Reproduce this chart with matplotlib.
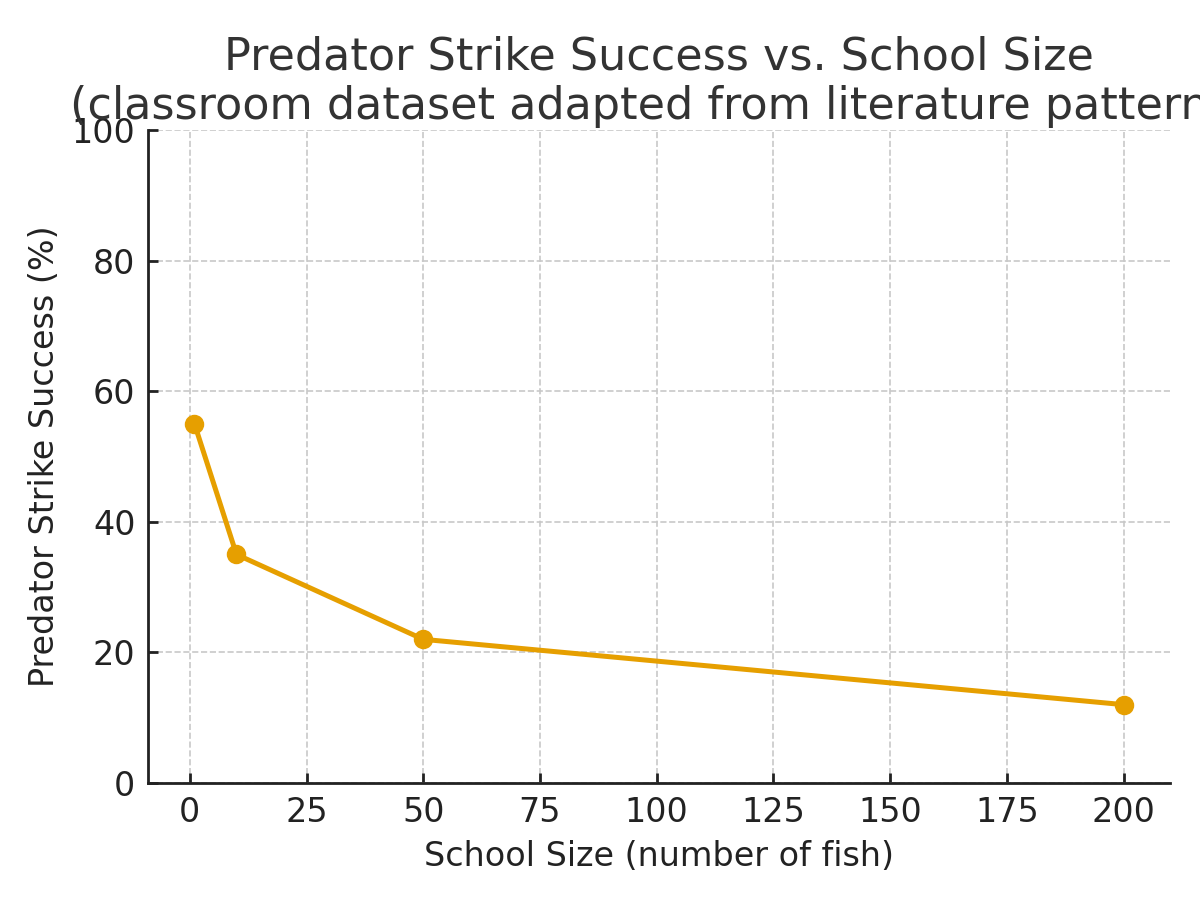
import matplotlib
matplotlib.use("Agg")
import matplotlib.pyplot as plt

school_size = [1, 10, 50, 200]
strike_success = [55, 35, 22, 12]
x_ticks = [0, 25, 50, 75, 100, 125, 150, 175, 200]
y_ticks = [0, 20, 40, 60, 80, 100]

fig = plt.figure(figsize=(6, 4.5), dpi=200)
ax = fig.add_axes([148/1200, 1-783/900, (1170-148)/1200, (783-130)/900])

ax.plot(school_size, strike_success, color="#E69F00", linewidth=1.8,
        marker="o", markersize=6)

ax.set_ylim(0, 100)
ax.set_xticks(x_ticks)
ax.set_yticks(y_ticks)
ax.grid(True, linestyle="--", color="#c8c8c8", linewidth=0.6)
ax.set_axisbelow(True)
for s in ["top", "right"]:
    ax.spines[s].set_visible(False)
for s in ["left", "bottom"]:
    ax.spines[s].set_linewidth(1.0)
    ax.spines[s].set_color("#222222")
ax.tick_params(labelsize=12, colors="#222222", width=1.0, length=3.5,
               direction="in", pad=4.5)

ax.set_xlabel("School Size (number of fish)", fontsize=12, color="#222222")
ax.set_ylabel("Predator Strike Success (%)", fontsize=12, color="#222222")
ax.set_title("Predator Strike Success vs. School Size\n(classroom dataset adapted from literature patterns)",
             fontsize=16, color="#333333", pad=4)

fig.savefig("out.png", dpi=200)
